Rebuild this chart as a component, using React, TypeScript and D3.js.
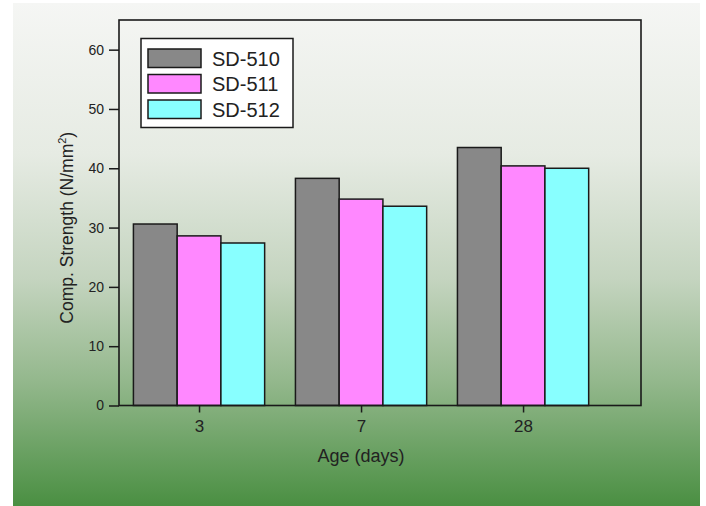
import * as d3 from 'd3';
import React, { useRef, useEffect } from 'react';

const ages = ['3', '7', '28'];
const seriesNames = ['SD-510', 'SD-511', 'SD-512'];
const sd510 = [30.6, 38.3, 43.5];
const sd511 = [28.6, 34.8, 40.4];
const sd512 = [27.4, 33.6, 40.0];
const yTicks = [0, 10, 20, 30, 40, 50, 60];
const colors = ['#888888', '#ff88ff', '#88ffff'];

export default function App() {
  const svgRef = useRef<SVGSVGElement>(null);

  useEffect(() => {
    const svg = d3.select(svgRef.current);
    svg.selectAll('*').remove();

    const H = 506;
    const left = 119, right = 641, top = 20, bottom = 405.5;
    const font = 'Arial, Liberation Sans, sans-serif';

    // background gradient
    const defs = svg.append('defs');
    const grad = defs.append('linearGradient')
      .attr('id', 'bg').attr('x1', 0).attr('y1', 0).attr('x2', 0).attr('y2', 1);
    [[0, '#f5f6f4'], [0.3, '#e6ebe3'], [0.55, '#c4d4bf'], [0.75, '#94b88d'], [1, '#4a8f42']]
      .forEach(([o, c]) => grad.append('stop').attr('offset', o as number).attr('stop-color', c as string));
    svg.append('rect').attr('x', 13).attr('y', 3).attr('width', 687).attr('height', H - 3)
      .attr('fill', 'url(#bg)');

    const y = d3.scaleLinear().domain([0, 65]).range([bottom, top]);
    const x = d3.scaleLinear().domain([-0.494, 2.728]).range([left, right]);
    const bw = 0.27;

    const series = [sd510, sd511, sd512];
    const g = svg.append('g');
    series.forEach((vals, si) => {
      g.selectAll(null).data(vals).enter().append('rect')
        .attr('x', (_, i) => x(i + (si - 1.5) * bw))
        .attr('width', x(bw) - x(0))
        .attr('y', d => y(d))
        .attr('height', d => y(0) - y(d))
        .attr('fill', colors[si])
        .attr('stroke', '#1a1a1a')
        .attr('stroke-width', 1.5);
    });

    // frame
    svg.append('rect').attr('x', left).attr('y', top)
      .attr('width', right - left).attr('height', bottom - top)
      .attr('fill', 'none').attr('stroke', '#1a1a1a').attr('stroke-width', 1.6);

    const yAxis = d3.axisLeft(y).tickValues(yTicks).tickSize(10).tickPadding(5);
    const ya = svg.append('g').attr('transform', `translate(${left},0)`).call(yAxis);
    ya.select('.domain').remove();
    ya.selectAll('line').attr('stroke', '#1a1a1a').attr('stroke-width', 1.5);
    ya.selectAll('text').attr('font-family', font)
      .attr('font-size', 14).attr('fill', '#222');

    const xAxis = d3.axisBottom(x).tickValues([0, 1, 2])
      .tickFormat((d) => ages[d as number]).tickSize(7).tickPadding(7);
    const xa = svg.append('g').attr('transform', `translate(0,${bottom})`).call(xAxis);
    xa.select('.domain').remove();
    xa.selectAll('line').attr('stroke', '#1a1a1a').attr('stroke-width', 1.5);
    xa.selectAll('text').attr('font-family', font)
      .attr('font-size', 17).attr('fill', '#222');

    svg.append('text').attr('x', 361).attr('y', 462)
      .attr('text-anchor', 'middle').attr('font-family', font)
      .attr('font-size', 18).attr('fill', '#222').text('Age (days)');

    const yl = svg.append('text')
      .attr('transform', `translate(73,${(top + bottom) / 2 + 15}) rotate(-90)`)
      .attr('text-anchor', 'middle').attr('font-family', font)
      .attr('font-size', 17.5).attr('fill', '#222');
    yl.append('tspan').text('Comp. Strength (N/mm');
    yl.append('tspan').attr('font-size', 11).attr('dy', -7).text('2');
    yl.append('tspan').attr('dy', 7).text(')');

    // legend
    const lg = svg.append('g');
    lg.append('rect').attr('x', 141).attr('y', 38.5).attr('width', 152).attr('height', 89)
      .attr('fill', '#ffffff').attr('stroke', '#1a1a1a').attr('stroke-width', 1.5);
    seriesNames.forEach((name, i) => {
      const yy = 49 + i * 25.5;
      lg.append('rect').attr('x', 148).attr('y', yy).attr('width', 53).attr('height', 18.5)
        .attr('fill', colors[i]).attr('stroke', '#1a1a1a').attr('stroke-width', 1.5);
      lg.append('text').attr('x', 212).attr('y', yy + 16.5)
        .attr('font-family', font)
        .attr('font-size', 20).attr('fill', '#222').text(name);
    });
  }, []);

  return (
    <svg ref={svgRef} width={706} height={506}
      style={{ position: 'absolute', left: 0, top: 0, background: '#fff' }} />
  );
}
